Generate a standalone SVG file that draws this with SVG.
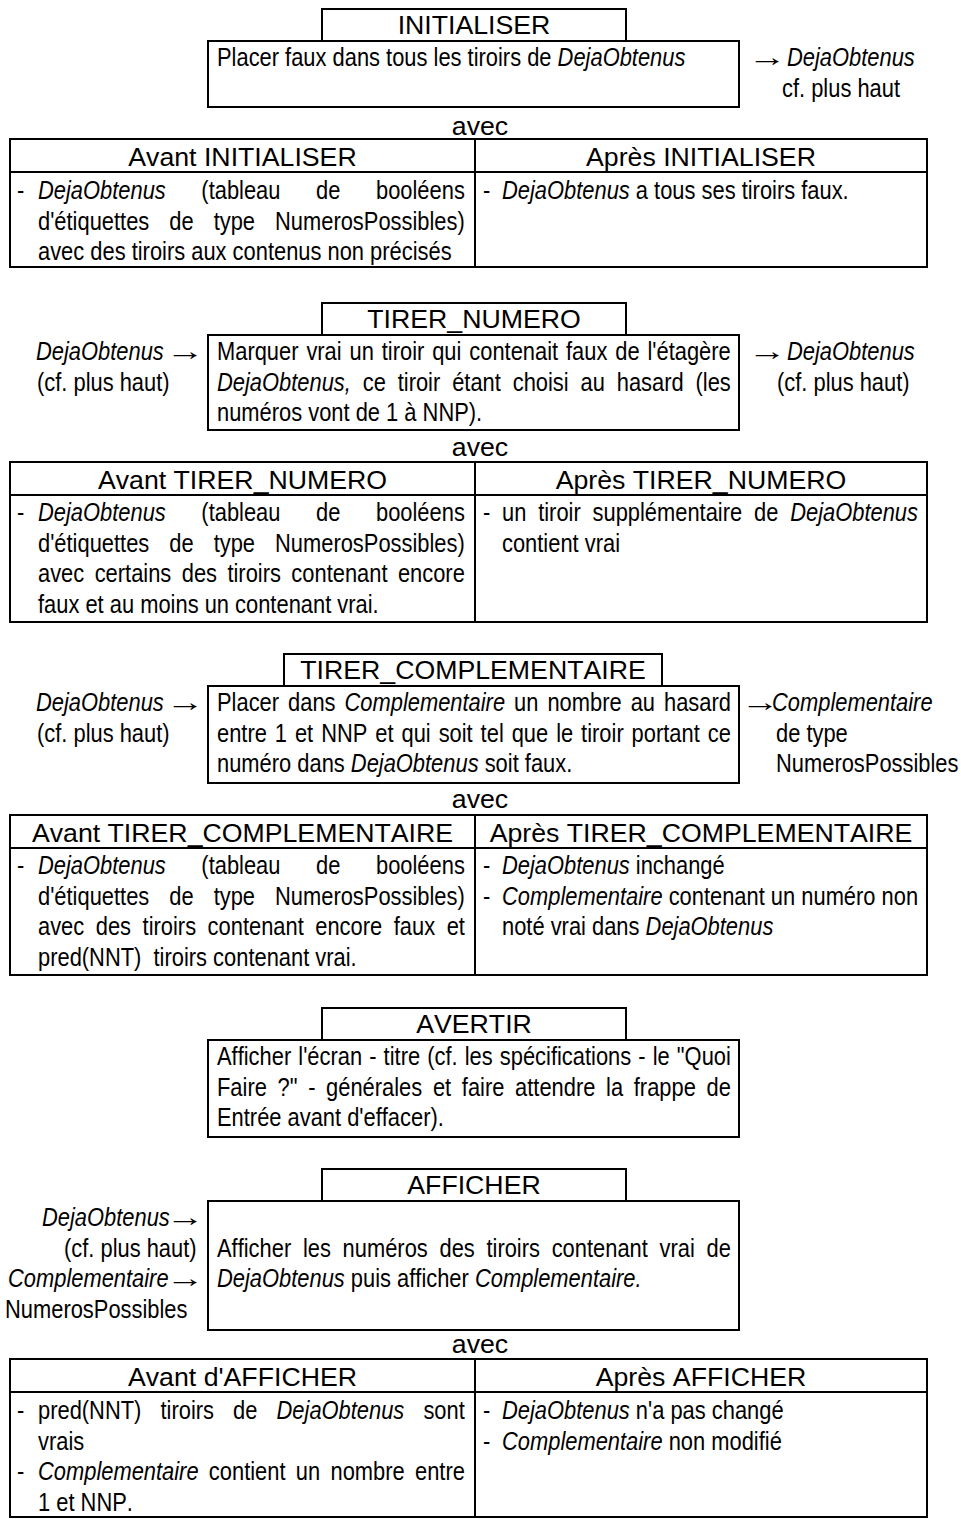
<svg xmlns="http://www.w3.org/2000/svg" width="961" height="1519" viewBox="0 0 961 1519">
<style>
text { font-family: "Liberation Sans", Arial, sans-serif; font-size: 26.7px; font-kerning: none; fill: #000; }
.h { text-anchor: middle; }
.i { font-style: italic; }
.frame { fill: none; stroke: #000; stroke-width: 2; }
.rule { stroke: #000; stroke-width: 2; }
.pre { white-space: pre; }
</style>
<rect width="961" height="1519" fill="#fff"/>

<!-- INITIALISER -->
<g id="initialiser">
  <rect class="frame" x="322" y="9" width="304" height="32"/>
  <rect class="frame" x="208" y="41" width="531" height="66"/>
  <text class="h" x="474" y="34">INITIALISER</text>
  <text transform="matrix(.82 0 0 1 217 66)">Placer faux dans tous les tiroirs de <tspan class="i">DejaObtenus</tspan></text>
</g>
<g id="initialiser-out">
  <text transform="matrix(1.45 0 0 1 748 66)">→</text>
  <text class="i" transform="matrix(.82 0 0 1 787 66)">DejaObtenus</text>
  <text transform="matrix(.82 0 0 1 782 97)">cf. plus haut</text>
</g>
<text id="initialiser-avec" class="h" x="480" y="135">avec</text>
<g id="initialiser-table">
  <rect class="frame" x="10" y="139" width="917" height="128"/>
  <line class="rule" x1="10" y1="172" x2="927" y2="172"/>
  <line class="rule" x1="475" y1="139" x2="475" y2="267"/>
  <text class="h" x="242.5" y="166">Avant INITIALISER</text>
  <text class="h" x="701" y="166">Après INITIALISER</text>
  <text transform="matrix(.82 0 0 1 17 199)">-</text>
  <text transform="matrix(.82 0 0 1 38 199)" style="word-spacing:36px"><tspan class="i">DejaObtenus</tspan> (tableau de booléens</text>
  <text transform="matrix(.82 0 0 1 38 230)" style="word-spacing:17px">d'étiquettes de type NumerosPossibles)</text>
  <text transform="matrix(.82 0 0 1 38 260)">avec des tiroirs aux contenus non précisés</text>
  <text transform="matrix(.82 0 0 1 483 199)">-</text>
  <text transform="matrix(.82 0 0 1 502 199)"><tspan class="i">DejaObtenus</tspan> a tous ses tiroirs faux.</text>
</g>

<!-- TIRER_NUMERO -->
<g id="tirer-numero">
  <rect class="frame" x="322" y="303" width="304" height="32"/>
  <rect class="frame" x="208" y="335" width="531" height="95"/>
  <text class="h" x="474" y="328">TIRER_NUMERO</text>
  <text transform="matrix(.82 0 0 1 217 360)" style="word-spacing:2.2px">Marquer vrai un tiroir qui contenait faux de l'étagère</text>
  <text transform="matrix(.82 0 0 1 217 391)" style="word-spacing:7.07px"><tspan class="i">DejaObtenus,</tspan> ce tiroir étant choisi au hasard (les</text>
  <text transform="matrix(.82 0 0 1 217 421)">numéros vont de 1 à NNP).</text>
</g>
<g id="tirer-numero-in">
  <text class="i" transform="matrix(.82 0 0 1 36 360)">DejaObtenus</text>
  <text transform="matrix(1.45 0 0 1 166 360)">→</text>
  <text transform="matrix(.82 0 0 1 37 391)">(cf. plus haut)</text>
</g>
<g id="tirer-numero-out">
  <text transform="matrix(1.45 0 0 1 748 360)">→</text>
  <text class="i" transform="matrix(.82 0 0 1 787 360)">DejaObtenus</text>
  <text transform="matrix(.82 0 0 1 777 391)">(cf. plus haut)</text>
</g>
<text id="tirer-numero-avec" class="h" x="480" y="456">avec</text>
<g id="tirer-numero-table">
  <rect class="frame" x="10" y="462" width="917" height="160"/>
  <line class="rule" x1="10" y1="495" x2="927" y2="495"/>
  <line class="rule" x1="475" y1="462" x2="475" y2="622"/>
  <text class="h" x="242.5" y="489">Avant TIRER_NUMERO</text>
  <text class="h" x="701" y="489">Après TIRER_NUMERO</text>
  <text transform="matrix(.82 0 0 1 17 521)">-</text>
  <text transform="matrix(.82 0 0 1 38 521)" style="word-spacing:36px"><tspan class="i">DejaObtenus</tspan> (tableau de booléens</text>
  <text transform="matrix(.82 0 0 1 38 552)" style="word-spacing:17px">d'étiquettes de type NumerosPossibles)</text>
  <text transform="matrix(.82 0 0 1 38 582)" style="word-spacing:5.3px">avec certains des tiroirs contenant encore</text>
  <text transform="matrix(.82 0 0 1 38 613)">faux et au moins un contenant vrai.</text>
  <text transform="matrix(.82 0 0 1 483 521)">-</text>
  <text transform="matrix(.82 0 0 1 502 521)" style="word-spacing:7px">un tiroir supplémentaire de <tspan class="i">DejaObtenus</tspan></text>
  <text transform="matrix(.82 0 0 1 502 552)">contient vrai</text>
</g>

<!-- TIRER_COMPLEMENTAIRE -->
<g id="tirer-complementaire">
  <rect class="frame" x="284" y="654" width="378" height="32"/>
  <rect class="frame" x="208" y="686" width="531" height="97"/>
  <text class="h" x="473" y="679">TIRER_COMPLEMENTAIRE</text>
  <text transform="matrix(.82 0 0 1 217 711)" style="word-spacing:3.57px">Placer dans <tspan class="i">Complementaire</tspan> un nombre au hasard</text>
  <text transform="matrix(.82 0 0 1 217 742)" style="word-spacing:2.27px">entre 1 et NNP et qui soit tel que le tiroir portant ce</text>
  <text transform="matrix(.82 0 0 1 217 772)">numéro dans <tspan class="i">DejaObtenus</tspan> soit faux.</text>
</g>
<g id="tirer-complementaire-in">
  <text class="i" transform="matrix(.82 0 0 1 36 711)">DejaObtenus</text>
  <text transform="matrix(1.45 0 0 1 166 711)">→</text>
  <text transform="matrix(.82 0 0 1 37 742)">(cf. plus haut)</text>
</g>
<g id="tirer-complementaire-out">
  <text transform="matrix(1.45 0 0 1 741 711)">→</text>
  <text class="i" transform="matrix(.82 0 0 1 772 711)">Complementaire</text>
  <text transform="matrix(.82 0 0 1 776 742)">de type</text>
  <text transform="matrix(.82 0 0 1 776 772)">NumerosPossibles</text>
</g>
<text id="tirer-complementaire-avec" class="h" x="480" y="808">avec</text>
<g id="tirer-complementaire-table">
  <rect class="frame" x="10" y="815" width="917" height="160"/>
  <line class="rule" x1="10" y1="848" x2="927" y2="848"/>
  <line class="rule" x1="475" y1="815" x2="475" y2="975"/>
  <text class="h" x="242.5" y="842">Avant TIRER_COMPLEMENTAIRE</text>
  <text class="h" x="701" y="842">Après TIRER_COMPLEMENTAIRE</text>
  <text transform="matrix(.82 0 0 1 17 874)">-</text>
  <text transform="matrix(.82 0 0 1 38 874)" style="word-spacing:36px"><tspan class="i">DejaObtenus</tspan> (tableau de booléens</text>
  <text transform="matrix(.82 0 0 1 38 905)" style="word-spacing:17px">d'étiquettes de type NumerosPossibles)</text>
  <text transform="matrix(.82 0 0 1 38 935)" style="word-spacing:6.65px">avec des tiroirs contenant encore faux et</text>
  <text class="pre" transform="matrix(.82 0 0 1 38 966)">pred(NNT)  tiroirs contenant vrai.</text>
  <text transform="matrix(.82 0 0 1 483 874)">-</text>
  <text transform="matrix(.82 0 0 1 502 874)"><tspan class="i">DejaObtenus</tspan> inchangé</text>
  <text transform="matrix(.82 0 0 1 483 905)">-</text>
  <text transform="matrix(.82 0 0 1 502 905)"><tspan class="i">Complementaire</tspan> contenant un numéro non</text>
  <text transform="matrix(.82 0 0 1 502 935)">noté vrai dans <tspan class="i">DejaObtenus</tspan></text>
</g>

<!-- AVERTIR -->
<g id="avertir">
  <rect class="frame" x="322" y="1008" width="304" height="32"/>
  <rect class="frame" x="208" y="1040" width="531" height="97"/>
  <text class="h" x="474" y="1033">AVERTIR</text>
  <text transform="matrix(.82 0 0 1 217 1065)" style="word-spacing:1.26px">Afficher l'écran - titre (cf. les spécifications - le "Quoi</text>
  <text transform="matrix(.82 0 0 1 217 1096)" style="word-spacing:5.6px">Faire ?" - générales et faire attendre la frappe de</text>
  <text transform="matrix(.82 0 0 1 217 1126)">Entrée avant d'effacer).</text>
</g>

<!-- AFFICHER -->
<g id="afficher">
  <rect class="frame" x="322" y="1169" width="304" height="32"/>
  <rect class="frame" x="208" y="1201" width="531" height="129"/>
  <text class="h" x="474" y="1194">AFFICHER</text>
  <text transform="matrix(.82 0 0 1 217 1257)" style="word-spacing:6.87px">Afficher les numéros des tiroirs contenant vrai de</text>
  <text transform="matrix(.82 0 0 1 217 1287)"><tspan class="i">DejaObtenus</tspan> puis afficher <tspan class="i">Complementaire.</tspan></text>
</g>
<g id="afficher-in">
  <text class="i" transform="matrix(.82 0 0 1 42 1226)">DejaObtenus</text>
  <text transform="matrix(1.45 0 0 1 166 1226)">→</text>
  <text transform="matrix(.82 0 0 1 64 1257)">(cf. plus haut)</text>
  <text class="i" transform="matrix(.82 0 0 1 8 1287)">Complementaire</text>
  <text transform="matrix(1.45 0 0 1 166 1287)">→</text>
  <text transform="matrix(.82 0 0 1 5 1318)">NumerosPossibles</text>
</g>
<text id="afficher-avec" class="h" x="480" y="1353">avec</text>
<g id="afficher-table">
  <rect class="frame" x="10" y="1359" width="917" height="158"/>
  <line class="rule" x1="10" y1="1392" x2="927" y2="1392"/>
  <line class="rule" x1="475" y1="1359" x2="475" y2="1517"/>
  <text class="h" x="242.5" y="1386">Avant d'AFFICHER</text>
  <text class="h" x="701" y="1386">Après AFFICHER</text>
  <text transform="matrix(.82 0 0 1 17 1419)">-</text>
  <text transform="matrix(.82 0 0 1 38 1419)" style="word-spacing:15.9px">pred(NNT) tiroirs de <tspan class="i">DejaObtenus</tspan> sont</text>
  <text transform="matrix(.82 0 0 1 38 1450)">vrais</text>
  <text transform="matrix(.82 0 0 1 17 1480)">-</text>
  <text transform="matrix(.82 0 0 1 38 1480)" style="word-spacing:5.15px"><tspan class="i">Complementaire</tspan> contient un nombre entre</text>
  <text transform="matrix(.82 0 0 1 38 1511)">1 et NNP.</text>
  <text transform="matrix(.82 0 0 1 483 1419)">-</text>
  <text transform="matrix(.82 0 0 1 502 1419)"><tspan class="i">DejaObtenus</tspan> n'a pas changé</text>
  <text transform="matrix(.82 0 0 1 483 1450)">-</text>
  <text transform="matrix(.82 0 0 1 502 1450)"><tspan class="i">Complementaire</tspan> non modifié</text>
</g>
</svg>
